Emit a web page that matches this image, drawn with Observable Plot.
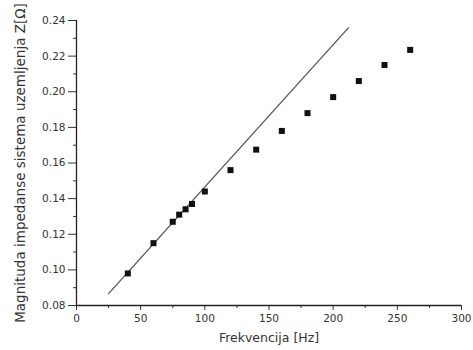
<!DOCTYPE html>
<html>
<head>
<meta charset="utf-8">
<script src="https://cdn.jsdelivr.net/npm/d3@7"></script>
<script src="https://cdn.jsdelivr.net/npm/@observablehq/plot@0.6"></script>
<style>
  body { margin: 0; background: #fff; }
  #chart svg { display: block; }
</style>
</head>
<body>
<div id="chart"></div>
<script>
// Measured points
const freq = [40, 60, 75, 80, 85, 90, 100, 120, 140, 160, 180, 200, 220, 240, 260];
const impedance = [0.098, 0.115, 0.127, 0.131, 0.134, 0.137, 0.144, 0.156, 0.1675, 0.178, 0.188, 0.197, 0.206, 0.215, 0.2235];
// Straight reference line (two end points)
const lineFreq = [25, 212];
const lineImp = [0.0867, 0.236];
// Ticks
const xTicks = [0, 50, 100, 150, 200, 250, 300];
const xMinor = [25, 75, 125, 175, 225, 275];
const yTicks = [0.08, 0.10, 0.12, 0.14, 0.16, 0.18, 0.20, 0.22, 0.24];
const yMinor = [0.09, 0.11, 0.13, 0.15, 0.17, 0.19, 0.21, 0.23];

const points = freq.map((f, i) => ({f, z: impedance[i]}));
const line = lineFreq.map((f, i) => ({f, z: lineImp[i]}));

const chart = Plot.plot({
  width: 473,
  height: 350,
  marginLeft: 76,
  marginRight: 12,
  marginTop: 20,
  marginBottom: 45,
  style: {fontFamily: "'DejaVu Sans', sans-serif", fontSize: "10.5px", color: "#333", background: "#fff"},
  x: {domain: [0, 300]},
  y: {domain: [0.08, 0.24]},
  marks: [
    Plot.axisX({ticks: xMinor, tickSize: 3, tickFormat: () => "", label: null}),
    Plot.axisY({ticks: yMinor, tickSize: 3, tickFormat: () => "", label: null}),
    Plot.axisX({ticks: xTicks, tickSize: 5, tickPadding: 4, tickFormat: d3.format("d"),
      label: null, fontSize: 10.5}),
    Plot.axisY({ticks: yTicks, tickSize: 8, tickPadding: 3, tickFormat: d3.format(".2f"),
      label: null, fontSize: 10.5}),
    Plot.axisX({ticks: [], tickSize: 0, label: "Frekvencija [Hz]", labelAnchor: "center", labelArrow: "none", labelOffset: 36, fontSize: 12.5}),
    Plot.axisY({ticks: [], tickSize: 0, label: "Magnituda impedanse sistema uzemljenja Z[Ω]", labelAnchor: "center", labelArrow: "none", labelOffset: 61, fontSize: 13.5}),
    Plot.ruleX([0], {stroke: "#222", strokeWidth: 1.3}),
    Plot.ruleY([0.08], {stroke: "#222", strokeWidth: 1.3}),
    Plot.line(line, {x: "f", y: "z", stroke: "#555", strokeWidth: 1.3}),
    Plot.dot(points, {x: "f", y: "z", symbol: "square", r: 3.4, fill: "#111", stroke: "none"})
  ]
});
document.getElementById("chart").appendChild(chart);
</script>
</body>
</html>
